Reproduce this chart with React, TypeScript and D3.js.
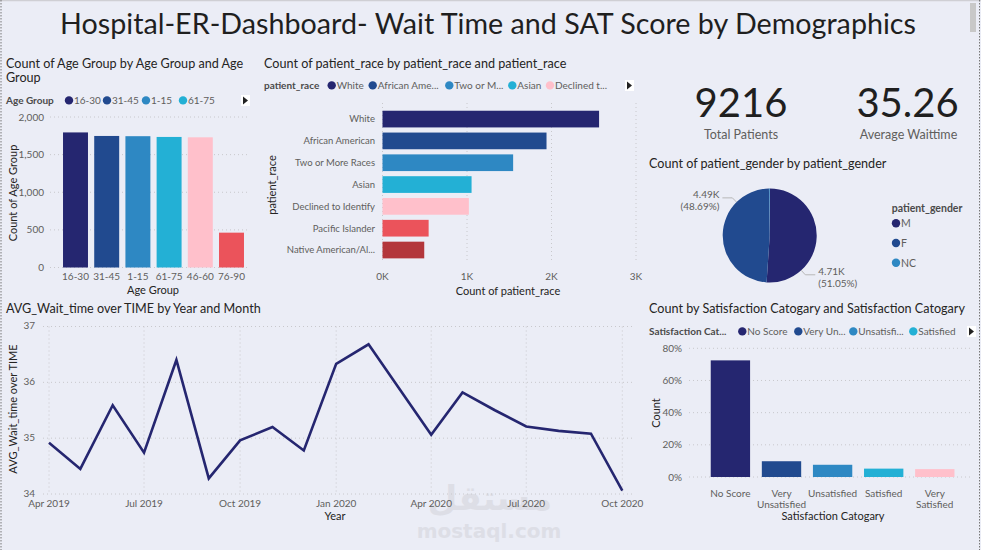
import React from 'react';
import * as d3 from 'd3';

// ---------- DATA ----------
const ageGroups = ['16-30', '31-45', '1-15', '61-75', '46-60', '76-90'];
const ageCounts = [1795, 1748, 1745, 1735, 1730, 463];
const ageTicks = [0, 500, 1000, 1500, 2000];
const ageLegend = ['16-30', '31-45', '1-15', '61-75'];

const races = ['White', 'African American', 'Two or More Races', 'Asian', 'Declined to Identify', 'Pacific Islander', 'Native American/Al...'];
const raceCounts = [2563, 1941, 1546, 1054, 1022, 546, 494];
const raceTicks = [0, 1000, 2000, 3000];
const raceLegend = ['White', 'African Ame...', 'Two or M...', 'Asian', 'Declined t...'];

const genders = ['M', 'F', 'NC'];
const genderCounts = [4705, 4487, 24];

const months = ['2019-04', '2019-05', '2019-06', '2019-07', '2019-08', '2019-09', '2019-10', '2019-11', '2019-12',
  '2020-01', '2020-02', '2020-03', '2020-04', '2020-05', '2020-06', '2020-07', '2020-08', '2020-09', '2020-10'];
const waitTimes = [34.92, 34.45, 35.59, 34.74, 36.40, 34.28, 34.96, 35.20, 34.78,
  36.33, 36.68, 35.90, 35.06, 35.82, 35.50, 35.21, 35.13, 35.08, 34.06];
const waitTicks = [34, 35, 36, 37];
const timeTicks = ['2019-04', '2019-07', '2019-10', '2020-01', '2020-04', '2020-07', '2020-10'];

const satCats = ['No Score', 'Very Unsatisfied', 'Unsatisfied', 'Satisfied', 'Very Satisfied'];
const satPct = [72.5, 9.8, 7.6, 5.2, 4.9];
const satTicks = [0, 20, 40, 60, 80];
const satLegend = ['No Score', 'Very Un...', 'Unsatisfi...', 'Satisfied'];

const totalPatients = 9216;
const avgWait = 35.26;

// ---------- STYLE ----------
const palette = ['#252670', '#214A8F', '#2E88C3', '#23B0D5', '#FFC0CB', '#EB535B', '#B3363B'];
const BG = '#EBEDF6';
const FONT = "Lato, 'Open Sans', sans-serif";
const TXT = '#252423';
const TICK = '#605E5C';
const GRID = '#C8C8CC';

const parseMonth = d3.timeParse('%Y-%m');
const monthLabel = d3.timeFormat('%b %Y');

function Legend({ x, y, title, labels, xs, arrowX }: any) {
  return (
    <g fontFamily={FONT} fontSize={10}>
      <text x={x} y={y} fill="#4a4a4a" fontWeight={700}>{title}</text>
      {labels.map((l: string, i: number) => (
        <g key={l}>
          <circle cx={xs[i]} cy={y - 3.6} r={4.2} fill={palette[i]} />
          <text x={xs[i] + 5} y={y} fill={TICK}>{l}</text>
        </g>
      ))}
      <rect x={arrowX - 4} y={y - 9} width={9} height={11} fill="#fff" />
      <path d={`M${arrowX - 2},${y - 7.5} L${arrowX + 3},${y - 3.5} L${arrowX - 2},${y + 0.5} Z`} fill="#222" />
    </g>
  );
}

export default function App() {
  // Age chart
  const ax = d3.scaleBand<string>().domain(ageGroups).range([59.9, 247.1]).paddingInner(0.2).paddingOuter(0.1);
  const ay = d3.scaleLinear().domain([0, 2000]).range([267.5, 117]);
  const fmtComma = d3.format(',');

  // Race chart
  const ry = d3.scaleBand<string>().domain(races).range([105.6, 263.5]).padding(0.235);
  const rx = d3.scaleLinear().domain([0, 3000]).range([382.5, 636]);

  // Pie
  const pcx = 769.7, pcy = 235.5, pr = 47;
  const pie = d3.pie<number>().sort(null).value((d) => d);
  const arcs = pie(genderCounts);
  const arcGen = d3.arc<d3.PieArcDatum<number>>().innerRadius(0).outerRadius(pr);
  const totalG = d3.sum(genderCounts);
  const fmtK = (v: number) => (v / 1000).toFixed(2) + 'K';

  // Line chart
  const dates = months.map((m) => parseMonth(m) as Date);
  const lx = d3.scaleTime().domain([dates[0], dates[dates.length - 1]]).range([49, 622.3]);
  const ly = d3.scaleLinear().domain([34, 37]).range([494, 326.5]);
  const line = d3.line<number>().x((_, i) => lx(dates[i])).y((d) => ly(d));

  // Satisfaction chart
  const sx = d3.scaleBand<string>().domain(satCats).range([690.3, 974.9]).paddingInner(0.23).paddingOuter(0.4);
  const sy = d3.scaleLinear().domain([0, 80]).range([477, 348.3]);

  return (
    <svg width={981} height={550} style={{ position: 'absolute', left: 0, top: 0, background: BG }} fontFamily={FONT}>
      <rect x={0} y={0} width={981} height={550} fill={BG} />
      <line x1={0} y1={0.5} x2={981} y2={0.5} stroke="#cfcfd4" strokeWidth={1.5} />
      <line x1={1} y1={0} x2={1} y2={550} stroke="#777" strokeDasharray="1.5 1.5" />
      <line x1={979.5} y1={0} x2={979.5} y2={550} stroke="#777" strokeDasharray="1.5 1.5" />
      <rect x={970} y={3} width={6} height={29} fill="#C8C8C8" />

      {/* watermark (behind everything) */}
      <g fill="#c9c9cf" opacity={0.4} fontFamily="'DejaVu Sans', sans-serif" textAnchor="middle">
        <text x={490} y={510} fontSize={34} fontWeight={700}>مستقل</text>
        <text x={489} y={538} fontSize={20} fontWeight={700}>mostaql.com</text>
      </g>

      {/* Main title */}
      <text x={488} y={33.5} textAnchor="middle" fontSize={28} fill="#1f1f1f" textLength={856} lengthAdjust="spacingAndGlyphs">
        Hospital-ER-Dashboard- Wait Time and SAT Score by Demographics
      </text>

      {/* ---------- Age chart ---------- */}
      <text x={6} y={68} fontSize={12.6} fill={TXT}>Count of Age Group by Age Group and Age</text>
      <text x={6} y={82} fontSize={12.6} fill={TXT}>Group</text>
      <Legend x={6} y={104} title="Age Group" labels={ageLegend} xs={[69, 107, 146, 183]} arrowX={245} />
      {ageTicks.map((t) => (
        <g key={t}>
          <line x1={50} x2={247} y1={ay(t)} y2={ay(t)} stroke={GRID} strokeDasharray="1 3" />
          <text x={44} y={ay(t)} dy="0.35em" textAnchor="end" fontSize={10} fill={TICK}>{fmtComma(t)}</text>
        </g>
      ))}
      {ageGroups.map((g, i) => (
        <g key={g}>
          <rect x={ax(g)} y={ay(ageCounts[i])} width={ax.bandwidth()} height={ay(0) - ay(ageCounts[i])} fill={palette[i]} />
          <text x={(ax(g) as number) + ax.bandwidth() / 2} y={280} textAnchor="middle" fontSize={10} fill={TICK}>{g}</text>
        </g>
      ))}
      <text x={153} y={294} textAnchor="middle" fontSize={11} fill={TXT}>Age Group</text>
      <text transform="translate(16.5,193) rotate(-90)" textAnchor="middle" fontSize={11} fill={TXT}>Count of Age Group</text>

      {/* ---------- Race chart ---------- */}
      <text x={264} y={68} fontSize={12.6} fill={TXT}>Count of patient_race by patient_race and patient_race</text>
      <Legend x={264} y={89} title="patient_race" labels={raceLegend} xs={[331.7, 372.7, 449.3, 512.3, 550]} arrowX={629} />
      {raceTicks.map((t) => (
        <g key={t}>
          <line x1={rx(t)} x2={rx(t)} y1={103} y2={262} stroke={GRID} strokeDasharray="1 3" />
          <text x={rx(t)} y={280} textAnchor="middle" fontSize={10} fill={TICK}>{t / 1000 + 'K'}</text>
        </g>
      ))}
      {races.map((r, i) => (
        <g key={r}>
          <rect x={rx(0)} y={ry(r)} width={rx(raceCounts[i]) - rx(0)} height={ry.bandwidth()} fill={palette[i]} />
          <text x={375} y={(ry(r) as number) + ry.bandwidth() / 2} dy="0.35em" textAnchor="end" fontSize={9.5} fill={TICK}>{r}</text>
        </g>
      ))}
      <text x={508} y={294.5} textAnchor="middle" fontSize={11} fill={TXT}>Count of patient_race</text>
      <text transform="translate(276,185) rotate(-90)" textAnchor="middle" fontSize={11} fill={TXT}>patient_race</text>

      {/* ---------- KPI cards ---------- */}
      <text x={741} y={116.7} textAnchor="middle" fontSize={40} fill="#1f1f1f">{totalPatients}</text>
      <text x={741} y={139} textAnchor="middle" fontSize={12.5} fill={TICK}>Total Patients</text>
      <text x={907.5} y={116.7} textAnchor="middle" fontSize={40} fill="#1f1f1f">{avgWait.toFixed(2)}</text>
      <text x={908.5} y={139} textAnchor="middle" fontSize={12.5} fill={TICK}>Average Waittime</text>

      {/* ---------- Pie chart ---------- */}
      <text x={649} y={168} fontSize={12.6} fill={TXT}>Count of patient_gender by patient_gender</text>
      <g transform={`translate(${pcx},${pcy})`}>
        {arcs.map((a, i) => (
          <path key={genders[i]} d={arcGen(a) as string} fill={palette[i]} />
        ))}
      </g>
      {arcs.slice(0, 2).map((a, i) => {
        const ang = a.startAngle + 0.75 * (a.endAngle - a.startAngle);
        const p0 = [pcx + pr * Math.sin(ang), pcy - pr * Math.cos(ang)];
        const p1 = [pcx + (pr + 6) * Math.sin(ang), pcy - (pr + 6) * Math.cos(ang)];
        const right = Math.sin(ang) > 0;
        const p2 = [p1[0] + (right ? 10 : -10), p1[1]];
        const tx = p2[0] + (right ? 3 : -3);
        const anchor = right ? 'start' : 'end';
        return (
          <g key={genders[i]}>
            <polyline points={`${p0.join(',')} ${p1.join(',')} ${p2.join(',')}`} fill="none" stroke="#b8b8b8" strokeWidth={1} />
            <text x={tx} y={p2[1]} textAnchor={anchor} fontSize={10} fill={TICK}>{fmtK(genderCounts[i])}</text>
            <text x={tx} y={p2[1] + 12} textAnchor={anchor} fontSize={10} fill={TICK}>({(genderCounts[i] / totalG * 100).toFixed(2)}%)</text>
          </g>
        );
      })}
      <text x={891.7} y={212} fontSize={10.5} fontWeight={700} fill="#4a4a4a">patient_gender</text>
      {genders.map((g, i) => (
        <g key={g}>
          <circle cx={896} cy={223.3 + i * 19.7} r={4.2} fill={palette[i]} />
          <text x={901} y={227.3 + i * 19.7} fontSize={10.5} fill={TICK}>{g}</text>
        </g>
      ))}

      {/* ---------- Line chart ---------- */}
      <text x={6} y={313} fontSize={12.6} fill={TXT}>AVG_Wait_time over TIME by Year and Month</text>
      {waitTicks.map((t) => (
        <g key={t}>
          <line x1={43} x2={635} y1={ly(t)} y2={ly(t)} stroke={GRID} strokeDasharray="1 3" />
          <text x={35} y={ly(t) - 1} dy="0.35em" textAnchor="end" fontSize={10} fill={TICK}>{t}</text>
        </g>
      ))}
      {timeTicks.map((m) => {
        const d = parseMonth(m) as Date;
        return (
          <g key={m}>
            <line x1={lx(d)} x2={lx(d)} y1={326.5} y2={494} stroke={GRID} strokeDasharray="1 3" />
            <text x={lx(d)} y={507} textAnchor="middle" fontSize={10} fill={TICK}>{monthLabel(d)}</text>
          </g>
        );
      })}
      <path d={line(waitTimes) as string} fill="none" stroke={palette[0]} strokeWidth={2.6} strokeLinejoin="miter" />
      <text x={335} y={520} textAnchor="middle" fontSize={11} fill={TXT}>Year</text>
      <text transform="translate(16.5,409) rotate(-90)" textAnchor="middle" fontSize={11} fill={TXT}>AVG_Wait_time over TIME</text>

      {/* ---------- Satisfaction chart ---------- */}
      <text x={649} y={313} fontSize={12.6} fill={TXT}>Count by Satisfaction Catogary and Satisfaction Catogary</text>
      <Legend x={649} y={335} title="Satisfaction Cat..." labels={satLegend} xs={[742.3, 798.3, 853.3, 913.3]} arrowX={971} />
      {satTicks.map((t) => (
        <g key={t}>
          <line x1={689} x2={973} y1={sy(t)} y2={sy(t)} stroke={GRID} strokeDasharray="1 3" />
          <text x={682} y={sy(t)} dy="0.35em" textAnchor="end" fontSize={10} fill={TICK}>{t + '%'}</text>
        </g>
      ))}
      {satCats.map((c, i) => {
        const cx = (sx(c) as number) + sx.bandwidth() / 2;
        const lines = c.startsWith('Very ') ? ['Very', c.slice(5)] : [c];
        return (
          <g key={c}>
            <rect x={sx(c)} y={sy(satPct[i])} width={sx.bandwidth()} height={sy(0) - sy(satPct[i])} fill={palette[i]} />
            {lines.map((l, j) => (
              <text key={l} x={cx} y={496.5 + j * 11.6} textAnchor="middle" fontSize={10} fill={TICK}>{l}</text>
            ))}
          </g>
        );
      })}
      <text x={833} y={520} textAnchor="middle" fontSize={11} fill={TXT}>Satisfaction Catogary</text>
      <text transform="translate(659.5,413) rotate(-90)" textAnchor="middle" fontSize={11} fill={TXT}>Count</text>
    </svg>
  );
}
